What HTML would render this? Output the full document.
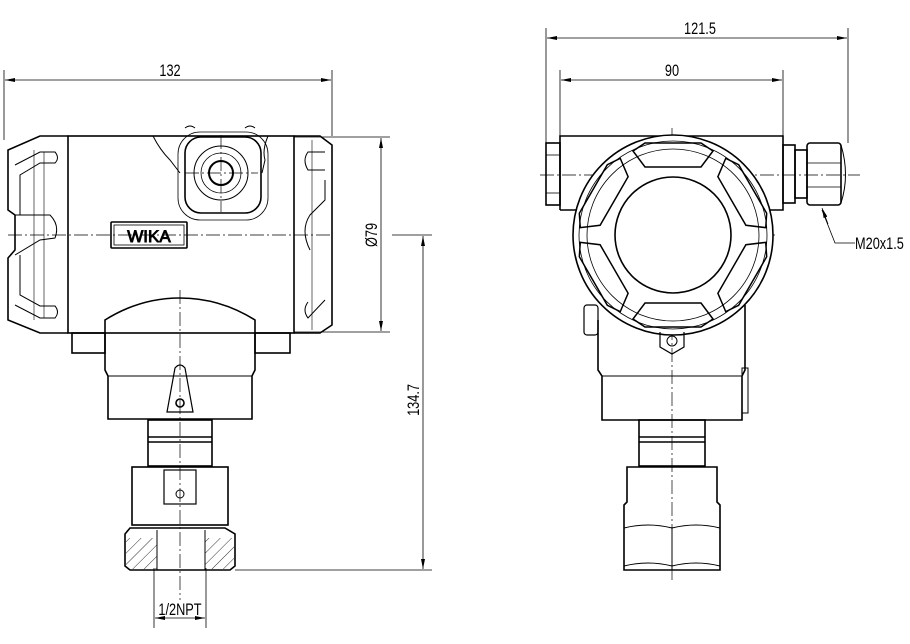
<!DOCTYPE html>
<html><head><meta charset="utf-8"><style>
html,body{margin:0;padding:0;background:#fff;}
svg{display:block;}
text{font-family:"Liberation Sans",sans-serif;font-size:17px;fill:#000;}
</style></head><body>
<svg width="910" height="644" viewBox="0 0 910 644" xmlns="http://www.w3.org/2000/svg">
<defs>
<marker id="a" viewBox="0 0 10 4" refX="10" refY="2" markerWidth="10" markerHeight="4" orient="auto-start-reverse" markerUnits="userSpaceOnUse"><path d="M0,0L10,2L0,4z" fill="#000"/></marker>
<pattern id="h" width="8" height="8" patternUnits="userSpaceOnUse" patternTransform="rotate(45)"><line x1="0" y1="0" x2="0" y2="8" stroke="#000" stroke-width="0.8"/></pattern>
</defs>
<g stroke="#000" fill="none" stroke-width="0.8">
<line x1="4" y1="70" x2="4" y2="140"/><line x1="332" y1="70" x2="332" y2="136"/>
<line x1="5" y1="80" x2="331" y2="80" marker-start="url(#a)" marker-end="url(#a)"/>
<line x1="294" y1="137" x2="390" y2="137"/><line x1="294" y1="332" x2="390" y2="332"/>
<line x1="381" y1="138" x2="381" y2="331" marker-start="url(#a)" marker-end="url(#a)"/>
<line x1="392" y1="235" x2="432" y2="235"/><line x1="235" y1="570" x2="432" y2="570"/>
<line x1="423" y1="236" x2="423" y2="569" marker-start="url(#a)" marker-end="url(#a)"/>
<line x1="154" y1="568" x2="154" y2="628"/><line x1="206" y1="568" x2="206" y2="628"/>
<line x1="155" y1="618" x2="205" y2="618" marker-start="url(#a)" marker-end="url(#a)"/>
<line x1="546" y1="28" x2="546" y2="143"/><line x1="848" y1="28" x2="848" y2="143"/>
<line x1="547" y1="38" x2="847" y2="38" marker-start="url(#a)" marker-end="url(#a)"/>
<line x1="560" y1="70" x2="560" y2="136"/><line x1="783" y1="70" x2="783" y2="136"/>
<line x1="561" y1="80" x2="782" y2="80" marker-start="url(#a)" marker-end="url(#a)"/>
<polyline points="855,243 835,243 822,210"/>
<line x1="828" y1="224" x2="822" y2="208" marker-end="url(#a)"/>
<g stroke-dasharray="14,3,2,3" stroke-width="0.7">
<line x1="8" y1="235" x2="330" y2="235"/>
<line x1="180" y1="290" x2="180" y2="600"/>
<line x1="221" y1="135" x2="221" y2="212"/><line x1="185" y1="173" x2="258" y2="173"/>
<line x1="540" y1="175" x2="860" y2="175"/>
<line x1="575" y1="235" x2="775" y2="235"/>
<line x1="672" y1="128" x2="672" y2="580"/>
</g>
</g>
<g stroke="#000" fill="none" stroke-width="1.6">
<rect x="68" y="136" width="226" height="197"/>
<path d="M68,136 L40,136 L8,150 L8,210 L15,215 L15,250 L8,258 L8,320 L40,333 L68,333"/>
<path d="M15,165 L40,152 L55,152 Q60,158 55,163 L40,163 L20,175 L20,215" stroke-width="1"/>
<path d="M15,305 L40,318 L55,318 Q60,312 55,306 L40,306 L20,295 L20,255" stroke-width="1"/>
<path d="M15,215 L50,215 Q60,225 55,238 L40,240 L15,255" stroke-width="1"/>
<line x1="34" y1="150" x2="34" y2="320" stroke-width="0.6"/><line x1="44" y1="152" x2="44" y2="318" stroke-width="0.6"/>
<path d="M294,136 L320,136 L332,145 L332,325 L320,333 L294,333"/>
<path d="M325,170 L308,170 Q302,160 308,152 L325,152 M310,250 Q300,230 310,215 L325,200 L325,180" stroke-width="1"/>
<path d="M325,300 L308,318 Q302,310 308,302" stroke-width="1"/>
<line x1="312" y1="140" x2="312" y2="330" stroke-width="0.6"/>
<path d="M153,136 Q160,150 170,160 L180,173 M268,136 Q262,150 265,160 L262,173" stroke-width="1"/>
<rect x="185" y="137" width="76" height="76" rx="16"/>
<rect x="178" y="132" width="90" height="88" rx="22" stroke-width="0.8"/>
<circle cx="221" cy="173" r="27" stroke-width="1"/>
<circle cx="221" cy="173" r="20" stroke-width="0.8"/>
<circle cx="221" cy="173" r="12" stroke-width="2"/>
<path d="M185,128 Q190,124 195,128 M245,128 Q250,124 255,128" stroke-width="1"/>
<rect x="111" y="222" width="76" height="26" rx="1"/>
<rect x="114" y="225" width="70" height="20" stroke-width="0.8"/>
<path d="M105,333 L105,320 Q140,298 180,298 Q220,298 255,320 L255,333"/>
<rect x="72" y="333" width="33" height="20"/>
<rect x="255" y="333" width="35" height="20"/>
<path d="M105,333 L105,370 L108,376 L108,419 L252,419 L252,376 L255,370 L255,333"/>
<line x1="108" y1="376" x2="252" y2="376" stroke-width="1"/>
<path d="M175,368 Q180,362 185,368 L193,412 L167,412 Z" stroke-width="1.2"/>
<circle cx="180" cy="403" r="4"/>
<rect x="148" y="420" width="64" height="46"/>
<line x1="148" y1="437" x2="212" y2="437"/><line x1="148" y1="442" x2="212" y2="442"/>
<rect x="132" y="467" width="96" height="58"/>
<rect x="164" y="470" width="32" height="34" stroke-width="1.2"/>
<circle cx="180" cy="494" r="4" stroke-width="1"/>
<path d="M130,528 L225,528 L235,534 L235,566 L230,570 L130,570 L125,566 L125,534 Z"/>
<rect x="126" y="538" width="31" height="31" fill="url(#h)" stroke="none"/>
<rect x="205" y="538" width="29" height="31" fill="url(#h)" stroke="none"/>
<line x1="157" y1="530" x2="157" y2="570" stroke-width="1"/><line x1="205" y1="530" x2="205" y2="570" stroke-width="1"/>
<!-- RIGHT DEVICE -->
<path d="M560,210 L560,136 L783,136 L783,210 L760,210"/>
<path d="M560,210 L580,210"/>
<rect x="546" y="143" width="14" height="62"/>
<line x1="546" y1="155" x2="560" y2="155" stroke-width="0.8"/><line x1="546" y1="193" x2="560" y2="193" stroke-width="0.8"/>
<rect x="783" y="145" width="12" height="58"/>
<rect x="795" y="150" width="12" height="48"/>
<rect x="807" y="143" width="34" height="62" rx="3"/>
<line x1="807" y1="163" x2="841" y2="163" stroke-width="0.8"/><line x1="807" y1="187" x2="841" y2="187" stroke-width="0.8"/>
<path d="M841,145 Q850,175 841,203" stroke-width="1"/>
<circle cx="673" cy="235" r="100" fill="#fff"/>
<circle cx="673" cy="235" r="94" stroke-width="0.8"/>
<circle cx="673" cy="235" r="86" stroke-width="0.8"/>
<circle cx="673" cy="235" r="58"/>
<g stroke-width="1.5" transform="translate(673 235)">
<polygon points="-40,-84 -28,-68 28,-68 40,-84 28,-92 -28,-92" transform="rotate(0)"/>
<polygon points="-40,-84 -28,-68 28,-68 40,-84 28,-92 -28,-92" transform="rotate(60)"/>
<polygon points="-40,-84 -28,-68 28,-68 40,-84 28,-92 -28,-92" transform="rotate(120)"/>
<polygon points="-40,-84 -28,-68 28,-68 40,-84 28,-92 -28,-92" transform="rotate(180)"/>
<polygon points="-40,-84 -28,-68 28,-68 40,-84 28,-92 -28,-92" transform="rotate(240)"/>
<polygon points="-40,-84 -28,-68 28,-68 40,-84 28,-92 -28,-92" transform="rotate(300)"/>
</g>
<path d="M598,320 L598,370 L602,376 L602,420 L742,420 L742,376 L745,370 L745,305"/>
<line x1="602" y1="376" x2="742" y2="376" stroke-width="1"/>
<path d="M660,332 L660,347 L672,354 L684,347 L684,332" stroke-width="1.2"/>
<circle cx="672" cy="341" r="5" stroke-width="1"/>
<rect x="584" y="305" width="14" height="30" rx="3" stroke-width="1.2"/>
<rect x="742" y="368" width="6" height="45" stroke-width="1"/>
<rect x="639" y="420" width="66" height="46"/>
<line x1="639" y1="437" x2="705" y2="437"/><line x1="639" y1="442" x2="705" y2="442"/>
<path d="M627,467 L717,467 L717,502 L720,505 L720,570 L624,570 L624,505 L627,502 Z"/>
<path d="M624,528 Q648,522 672,528 Q696,522 720,528 M624,566 Q648,560 672,566 Q696,560 720,566" stroke-width="1"/>
<line x1="672" y1="527" x2="672" y2="570" stroke-width="1"/>
</g>
<text x="149" y="242" text-anchor="middle" style="font-size:17px" fill="none" stroke="#000" stroke-width="0.9">WIKA</text>
<text x="170" y="76" text-anchor="middle" transform="translate(170 0) scale(0.75 1) translate(-170 0)">132</text>
<text x="700" y="34" text-anchor="middle" transform="translate(700 0) scale(0.75 1) translate(-700 0)">121.5</text>
<text x="672" y="76" text-anchor="middle" transform="translate(672 0) scale(0.75 1) translate(-672 0)">90</text>
<text x="855" y="249" transform="translate(855 0) scale(0.75 1) translate(-855 0)">M20x1.5</text>
<text x="180" y="615" text-anchor="middle" transform="translate(180 0) scale(0.75 1) translate(-180 0)">1/2NPT</text>
<text transform="translate(377 235) rotate(-90) scale(0.75 1)" text-anchor="middle">Ø79</text>
<text transform="translate(419 400) rotate(-90) scale(0.75 1)" text-anchor="middle">134.7</text>
</svg>
</body></html>
